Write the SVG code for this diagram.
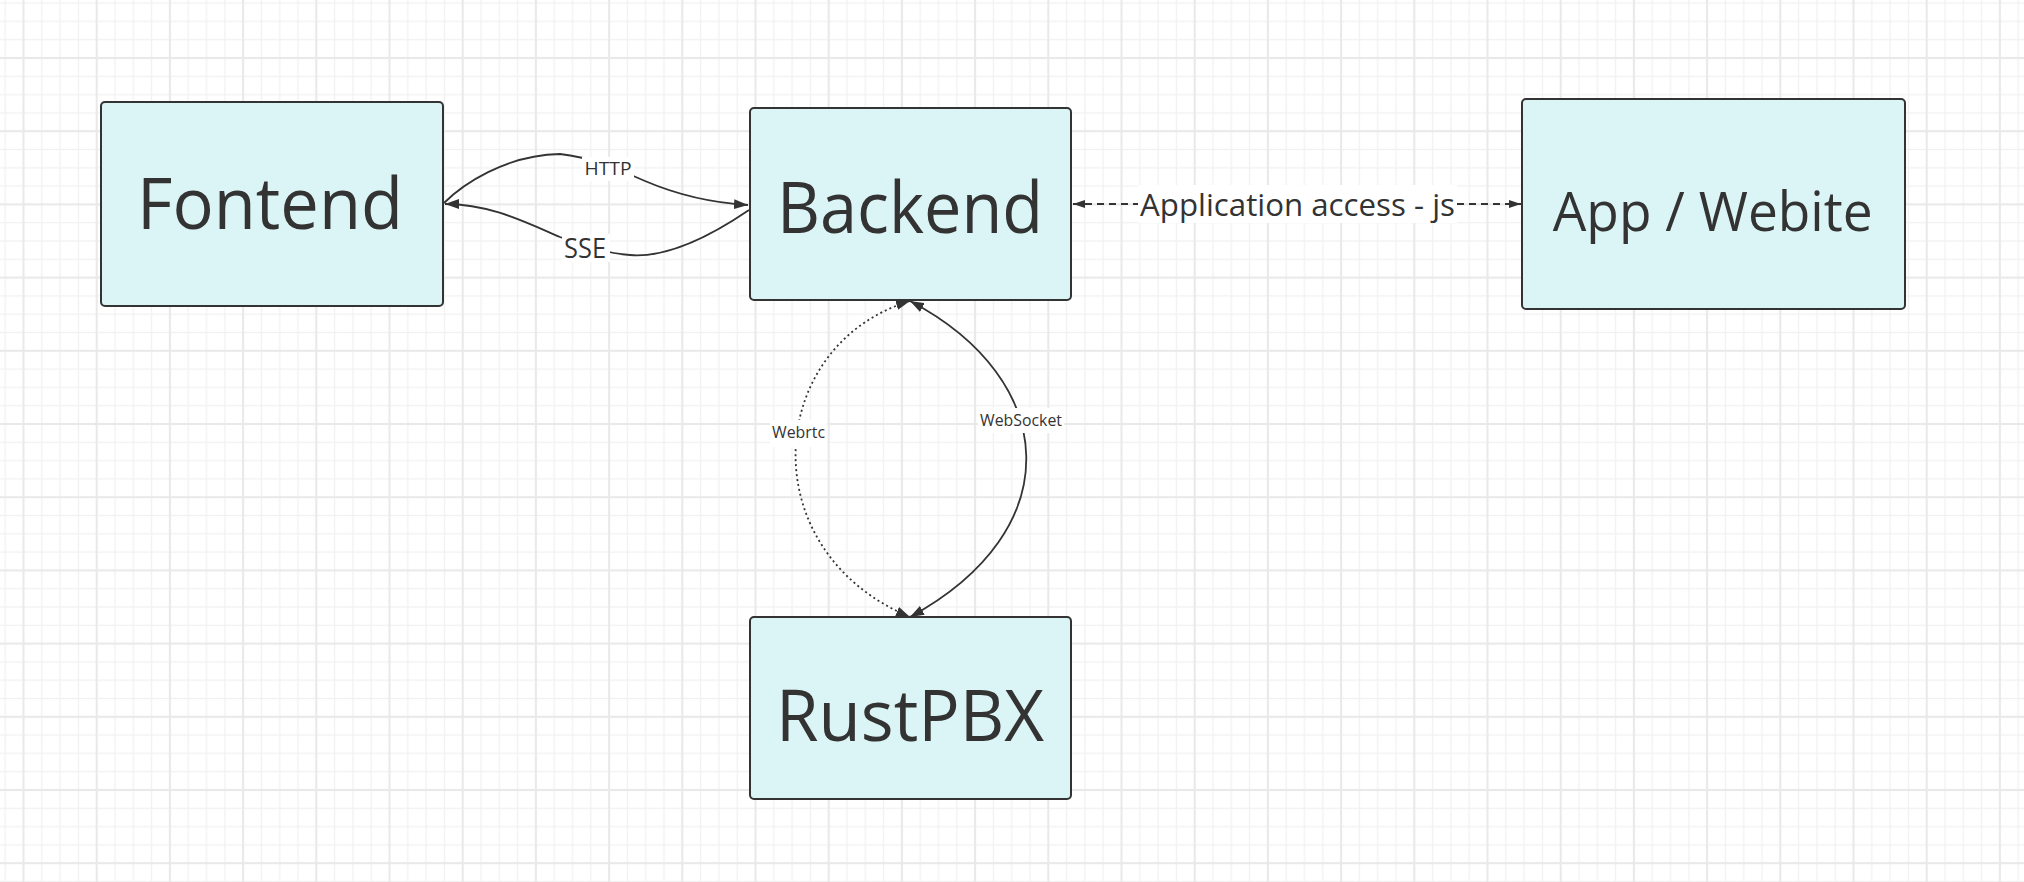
<svg xmlns="http://www.w3.org/2000/svg" width="2024" height="882" viewBox="0 0 2024 882">
<style>
.node rect{fill:#dbf4f5;stroke:#333;stroke-width:2}
.big{font-family:"Open Sans","Liberation Sans",sans-serif;fill:#333;text-anchor:middle}
.lbl{font-family:"Open Sans","Liberation Sans",sans-serif;fill:#333;text-anchor:middle}
.conn{fill:none;stroke:#333;stroke-width:1.8}
.bg{fill:#fff}
</style>
<defs>
<pattern id="grid" patternUnits="userSpaceOnUse" x="-13.1" y="21.4" width="73.2" height="73.2">
<rect x="0" y="0" width="73.2" height="73.2" fill="#fff"/>
<rect x="-0.6" y="0" width="1.2" height="73.2" fill="#f1f1f1"/>
<rect x="72.6" y="0" width="1.2" height="73.2" fill="#f1f1f1"/>
<rect x="17.7" y="0" width="1.2" height="73.2" fill="#f1f1f1"/>
<rect x="54.3" y="0" width="1.2" height="73.2" fill="#f1f1f1"/>
<rect x="0" y="-0.6" width="73.2" height="1.2" fill="#f1f1f1"/>
<rect x="0" y="72.6" width="73.2" height="1.2" fill="#f1f1f1"/>
<rect x="0" y="17.7" width="73.2" height="1.2" fill="#f1f1f1"/>
<rect x="0" y="54.3" width="73.2" height="1.2" fill="#f1f1f1"/>
<rect x="35.6" y="0" width="2" height="73.2" fill="#e9e9e9"/>
<rect x="0" y="35.6" width="73.2" height="2" fill="#e9e9e9"/>
</pattern>
<marker id="arr" markerUnits="userSpaceOnUse" viewBox="0 0 14 10" refX="14" refY="5" markerWidth="14" markerHeight="10" orient="auto-start-reverse">
<path d="M0,0 L14,5 L0,10 z" fill="#333"/>
</marker>
<marker id="arrs" markerUnits="userSpaceOnUse" viewBox="0 0 12 8" refX="12" refY="4" markerWidth="12" markerHeight="8" orient="auto-start-reverse">
<path d="M0,0 L12,4 L0,8 z" fill="#333"/>
</marker>
</defs>
<rect x="0" y="0" width="2024" height="882" fill="url(#grid)"/>

<g id="connectors">
<path class="conn" d="M444 203 C462 185,505 155,560 154 C590 157,620 170,645 181 C680 196,715 203,748 205" marker-end="url(#arr)"/>
<path class="conn" d="M749 210 C705 240,665 258,630 255 C605 253,585 247,560 237 C525 222,490 204,445 204" marker-end="url(#arr)"/>
<path class="conn" d="M1073 204 L1521 204" stroke-dasharray="7 5" marker-start="url(#arrs)" marker-end="url(#arrs)"/>
<path class="conn" d="M910 301 C765 345,750 550,910 617" stroke-dasharray="2 3" stroke-width="2" marker-start="url(#arr)" marker-end="url(#arr)"/>
<path class="conn" d="M910 301 C1060 380,1070 530,910 617" marker-start="url(#arr)" marker-end="url(#arr)"/>
<rect class="bg" x="582" y="157" width="52" height="24"/>
<text class="lbl" x="608" y="175" font-size="18" textLength="47" lengthAdjust="spacingAndGlyphs">HTTP</text>
<rect class="bg" x="562" y="234" width="48" height="28"/>
<text class="lbl" x="585" y="258" font-size="28" textLength="42" lengthAdjust="spacingAndGlyphs">SSE</text>
<rect class="bg" x="1138" y="185" width="319" height="38"/>
<text class="lbl" x="1297.5" y="216" font-size="31" textLength="315" lengthAdjust="spacingAndGlyphs">Application access - js</text>
<rect class="bg" x="770" y="420" width="57" height="27"/>
<text class="lbl" x="798.5" y="438" font-size="16" textLength="53" lengthAdjust="spacingAndGlyphs">Webrtc</text>
<rect class="bg" x="978" y="408" width="86" height="25"/>
<text class="lbl" x="1021" y="425.5" font-size="16" textLength="82" lengthAdjust="spacingAndGlyphs">WebSocket</text>
</g>

<g id="fontend" class="node">
<rect x="101" y="102" width="342" height="204" rx="4"/>
<text class="big" x="270" y="229" font-size="71" textLength="266" lengthAdjust="spacingAndGlyphs">Fontend</text>
</g>
<g id="backend" class="node">
<rect x="750" y="108" width="321" height="192" rx="4"/>
<text class="big" x="910" y="233" font-size="71" textLength="266" lengthAdjust="spacingAndGlyphs">Backend</text>
</g>
<g id="app" class="node">
<rect x="1522" y="99" width="383" height="210" rx="4"/>
<text class="big" x="1712.7" y="231" font-size="55" textLength="320" lengthAdjust="spacingAndGlyphs">App / Webite</text>
</g>
<g id="rustpbx" class="node">
<rect x="750" y="617" width="321" height="182" rx="4"/>
<text class="big" x="910" y="741" font-size="71" textLength="268" lengthAdjust="spacingAndGlyphs">RustPBX</text>
</g>
</svg>
